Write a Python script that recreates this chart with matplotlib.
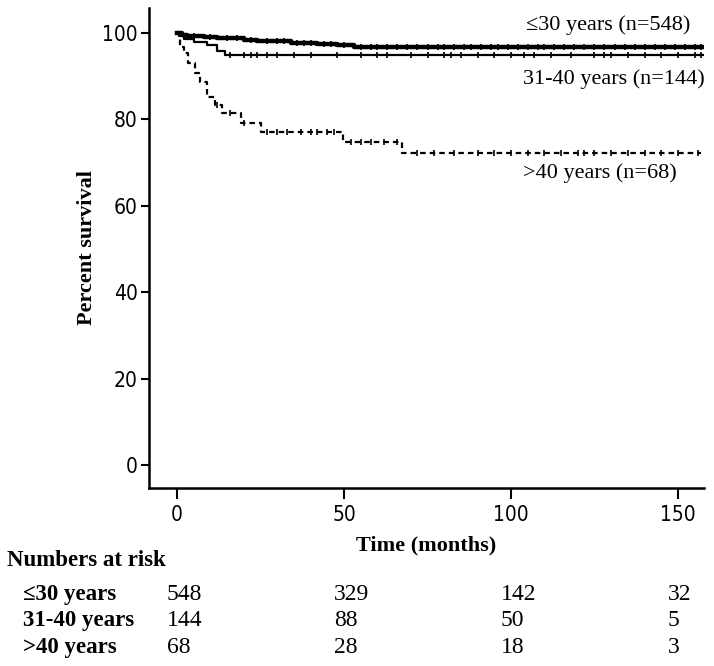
import matplotlib
matplotlib.use("Agg")
import matplotlib.pyplot as plt
import matplotlib.transforms as mtransforms
import numpy as np

# Kaplan-Meier step points (months, percent surviving)
t_le30 = [0, 1.5, 3, 8, 12, 20, 24, 34, 42, 48, 53, 158]
s_le30 = [100, 99.6, 99.3, 99.1, 98.8, 98.5, 98.1, 97.8, 97.5, 97.2, 96.8, 96.8]
t_31_40 = [0, 0.5, 2, 5, 9, 12, 14.5, 158]
s_31_40 = [100, 99.3, 98.6, 97.9, 97.2, 95.8, 94.9, 94.9]
t_gt40 = [0, 1, 2, 3.4, 5.4, 7, 9, 11.4, 13.4, 19, 25, 49.8, 67.3, 157]
s_gt40 = [100, 96.8, 95.4, 93.0, 90.7, 88.7, 85.2, 83.3, 81.5, 79.2, 77.2, 74.7, 72.2, 72.2]

# censored observations (months)
cens_le30 = [5, 10, 15, 18, 22, 27, 30, 32, 36, 38, 40, 44, 46, 50, 55, 58, 60, 63, 66, 69,
             72, 75, 78, 80, 83, 86, 88, 91, 94, 96, 99, 102, 105, 108, 110, 113, 116, 119,
             122, 125, 128, 131, 134, 137, 140, 143, 146, 149, 152, 155, 157]
cens_31_40 = [16, 20, 22, 24, 27, 30, 35, 40, 48, 55, 60, 63, 70, 75, 80, 82, 85, 90, 95,
              100, 104, 107, 112, 118, 125, 128, 130, 135, 140, 145, 150, 155, 157]
cens_gt40 = [12, 16, 20, 27, 30, 33, 37, 40, 42, 45, 47, 52, 55, 58, 62, 66, 72, 77, 83, 90,
             95, 100, 105, 110, 115, 120, 122, 125, 130, 135, 140, 145, 150, 156]

labels = ["\u226430 years (n=548)", "31-40 years (n=144)", ">40 years (n=68)"]
risk_groups = ["\u226430 years", "31-40 years", ">40 years"]
risk_times = [0, 50, 100, 150]
risk_le30 = [548, 329, 142, 32]
risk_31_40 = [144, 88, 50, 5]
risk_gt40 = [68, 28, 18, 3]

serif = ["Liberation Serif", "DejaVu Serif"]

fig = plt.figure(figsize=(7.14, 6.66), dpi=100)
ax = fig.add_axes([0.2087, 0.2673, 0.7773, 0.7207])


def surv_at(times, tt, ss):
    idx = np.searchsorted(tt, times, side="right") - 1
    return np.array(ss)[idx]


ax.step(t_le30, s_le30, where="post", color="black", lw=3.2)
ax.plot(cens_le30, surv_at(cens_le30, t_le30, s_le30), "|", color="black", ms=5, mew=1.2)
ax.step(t_31_40, s_31_40, where="post", color="black", lw=1.6)
ax.plot(cens_31_40, surv_at(cens_31_40, t_31_40, s_31_40), "|", color="black", ms=5, mew=1.2)
ax.step(t_gt40, s_gt40, where="post", color="black", lw=1.6, dashes=(2.5, 1.8))
ax.plot(cens_gt40, surv_at(cens_gt40, t_gt40, s_gt40), "|", color="black", ms=5, mew=1.2)

ax.set_xlim(-8.4, 157.8)
ax.set_ylim(-5.3, 105.8)
ax.set_xticks([0, 50, 100, 150])
ax.set_yticks([0, 20, 40, 60, 80, 100])
for lab in ax.get_xticklabels() + ax.get_yticklabels():
    lab.set_family("DejaVu Sans")
    lab.set_stretch("condensed")
    lab.set_fontsize(15)
ax.tick_params(axis="y", direction="out", length=6, width=1.5, pad=2)
ax.tick_params(axis="x", direction="out", length=8, width=1.5, pad=4)
ax.spines["top"].set_visible(False)
ax.spines["right"].set_visible(False)
ax.spines["left"].set_linewidth(1.8)
ax.spines["bottom"].set_linewidth(1.8)

ax.set_ylabel("Percent survival", family=serif, fontsize=16, fontweight="bold", labelpad=4)
ax.set_xlabel("Time (months)", family=serif, fontsize=16, fontweight="bold", labelpad=8)

# curve labels
ax.text(104.5, 101.9, labels[0], family=serif, fontsize=16, va="center", ha="left")
ax.text(103.5, 89.4, labels[1], family=serif, fontsize=16, va="center", ha="left")
ax.text(103.5, 67.6, labels[2], family=serif, fontsize=16, va="center", ha="left")

# numbers at risk table
trans = mtransforms.blended_transform_factory(ax.transData, fig.transFigure)
fig.text(0.01, 0.158, "Numbers at risk", family=serif, fontsize=16.5, fontweight="bold", va="center")
rows_y = [0.108, 0.068, 0.028]
for name, counts, y in zip(risk_groups, [risk_le30, risk_31_40, risk_gt40], rows_y):
    fig.text(0.032, y, name, family=serif, fontsize=16.5, fontweight="bold", va="center")
    for t, c in zip(risk_times, counts):
        ax.text(t - 3, y, str(c), transform=trans, family=serif, fontsize=17, va="center",
                ha="left", clip_on=False)

fig.savefig("out.png", dpi=100)
